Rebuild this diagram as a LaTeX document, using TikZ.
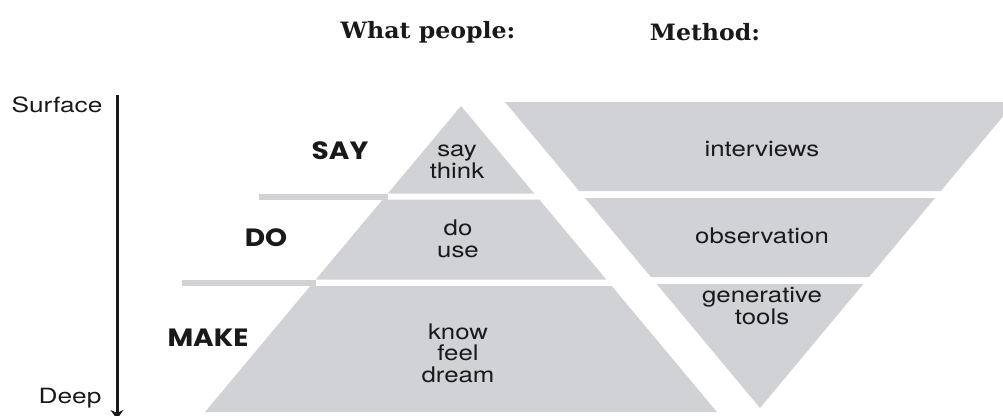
\documentclass[tikz,border=0pt]{standalone}
\usepackage{fontspec}
\setmainfont{TeX Gyre Heros}[FakeStretch=1.2]
\newfontfamily\depthfont{TeX Gyre Heros}[FakeStretch=1.25]
\newfontfamily\titlefont{DejaVu Serif}[FakeStretch=1.05]
\newfontfamily\levelfont{Poppins}[FakeStretch=1.12]
\usetikzlibrary{arrows.meta}
\definecolor{band}{RGB}{209,210,213}
\definecolor{ink}{RGB}{25,25,25}
\begin{document}
\begin{tikzpicture}[x=1pt,y=-1pt,
  title/.style={font=\titlefont\bfseries\fontsize{22.5}{26}\selectfont, text=ink, inner sep=0pt},
  level/.style={font=\levelfont\bfseries\fontsize{25}{28}\selectfont, text=ink, inner sep=0pt},
  body/.style={font=\fontsize{21.5}{21.5}\selectfont, text=ink, align=center, inner sep=0pt},
  depth/.style={font=\depthfont\fontsize{21}{22}\selectfont, text=ink, inner sep=0pt}]
\useasboundingbox (0,0) rectangle (1003,415);
\clip (0,0) rectangle (1003,415);

% upright pyramid: what people say, do, make
\fill[band] (461,106) -- (534.2,193.5) -- (387.8,193.5) -- cycle;
\fill[band] (382.7,199.5) -- (539.3,199.5) -- (606.2,279.5) -- (315.8,279.5) -- cycle;
\fill[band] (310.3,286) -- (611.7,286) -- (717,412) -- (205,412) -- cycle;
% ledges to the level labels
\fill[band] (259,193.5) rectangle (388,199.5);
\fill[band] (182,279.5) rectangle (316,286);

% inverted pyramid: methods
\fill[band] (505,102) -- (1015,102) -- (940.8,191) -- (579.2,191) -- cycle;
\fill[band] (585,198) -- (935,198) -- (869.1,277) -- (650.9,277) -- cycle;
\fill[band] (656.7,284) -- (863.3,284) -- (760,408) -- cycle;

% column headings
\node[title] (hpeople) at (428,32) {What people:};
\node[title] (hmethod) at (705,32) {Method:};

% depth axis
\node[depth] (surface) at (57,105) {Surface};
\node[depth] (deep) at (70,398) {Deep};
\coordinate (axtop) at (117,95);
\coordinate (axbot) at (117,419);
\draw[line width=3pt, ink, -{Stealth[length=9pt,width=13pt]}] (axtop) -- (axbot);

% level labels
\node[level] (say) at (340,151) {SAY};
\node[level] (do) at (266,238) {DO};
\node[level] (make) at (208,338) {MAKE};

% layer contents
\node[body] (sayt) at (457,162) {say\\think};
\node[body] (dot) at (458,239) {do\\use};
\node[body] (maket) at (458,353) {know\\feel\\dream};

% methods
\node[body] (interviews) at (762,149) {interviews};
\node[body] (observation) at (762,236) {observation};
\node[body] (gentools) at (762,306) {generative\\tools};
\end{tikzpicture}
\end{document}
